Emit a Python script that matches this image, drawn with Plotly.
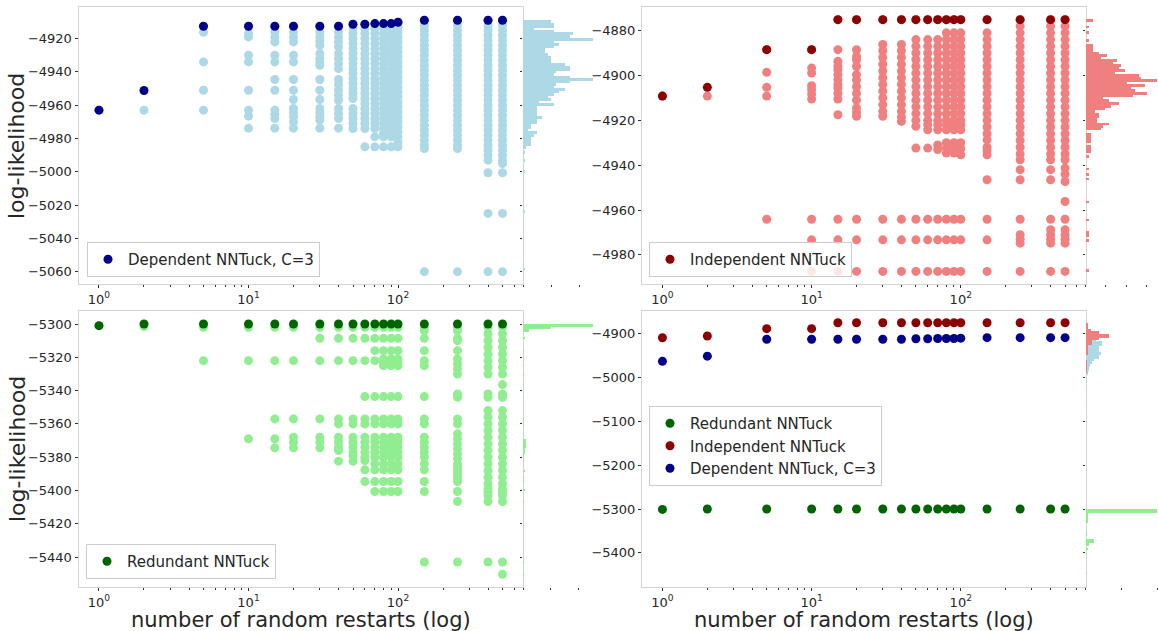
import plotly.graph_objects as go

W, H = 1158, 631

# ---------------- data ----------------
restarts = [1, 2, 5, 10, 15, 20, 30, 40, 50, 60, 70, 80, 90, 100, 150, 250, 400, 500]

dep_best = [-4963, -4951.2, -4912.6, -4912.6, -4912.6, -4912.6, -4912.6, -4912.6, -4911.4,
            -4911.4, -4911, -4911, -4911, -4910.2, -4909, -4909, -4909, -4909]
ind_best = [-4909.2, -4905.3, -4888.5, -4888.5] + [-4875.1] * 14
red_best = [-5301, -5300, -5300, -5300, -5300, -5300, -5300, -5300, -5300,
            -5300, -5300, -5300, -5300, -5300, -5300, -5300, -5300, -5300]

dep_runs = [
    [-4963],
    [-4963],
    [-4912.6, -4916.2, -4934, -4951, -4963],
    [-4912.6, -4917, -4919, -4930, -4934, -4951, -4963, -4966.6, -4973.8],
    [-4912.6, -4916, -4919, -4922, -4930, -4934, -4944.6, -4951, -4963, -4965.5, -4968, -4973.8],
    [-4912.6, -4916, -4919, -4922, -4930, -4934, -4944.6, -4951, -4956.6, -4962, -4964.5, -4967, -4970, -4973.8],
    [-4912.6, -4916, -4919, -4921.5, -4924, -4929, -4932, -4934, -4936, -4944.6, -4951, -4956.6, -4962,
     -4964.5, -4967, -4969, -4973.8],
    [-4912.6, -4916, -4919, -4922, -4925, -4929, -4932, -4935, -4938, -4944.6, -4947.5, -4951, -4954,
     -4957, -4962, -4965, -4968, -4973.8],
    [-4911.4, -4914, -4917, -4920, -4923, -4926, -4929, -4932, -4935, -4938, -4941, -4944, -4947, -4950,
     -4953, -4956, -4962, -4965, -4968, -4971, -4974],
    [-4911.4, -4914, -4917, -4920, -4923, -4926, -4929, -4932, -4935, -4938, -4941, -4944, -4947, -4950,
     -4953, -4956, -4959, -4962, -4965, -4968, -4971, -4974, -4985],
    [-4911, -4914, -4917, -4920, -4923, -4926, -4929, -4932, -4935, -4938, -4941, -4944, -4947, -4950,
     -4953, -4956, -4959, -4962, -4965, -4968, -4971, -4974, -4979, -4985],
    [-4911, -4914, -4917, -4920, -4923, -4926, -4929, -4932, -4935, -4938, -4941, -4944, -4947, -4950,
     -4953, -4956, -4959, -4962, -4965, -4968, -4971, -4974, -4977, -4979, -4985],
    [-4911, -4914, -4917, -4920, -4923, -4926, -4929, -4932, -4935, -4938, -4941, -4944, -4947, -4950,
     -4953, -4956, -4959, -4962, -4965, -4968, -4971, -4974, -4977, -4979, -4985],
    [-4910.2, -4913, -4916, -4919, -4922, -4925, -4928, -4931, -4934, -4937, -4940, -4943, -4946, -4949,
     -4952, -4955, -4958, -4961, -4964, -4967, -4970, -4973, -4976, -4979, -4982, -4985],
    [-4909, -4912, -4915, -4918, -4921, -4924, -4927, -4930, -4933, -4936, -4939, -4942, -4945, -4948,
     -4951, -4954, -4957, -4960, -4963, -4966, -4969, -4972, -4975, -4978, -4981, -4984, -4986, -5060],
    [-4909, -4912, -4915, -4918, -4921, -4924, -4927, -4930, -4933, -4936, -4939, -4942, -4945, -4948,
     -4951, -4954, -4957, -4960, -4963, -4966, -4969, -4972, -4975, -4978, -4981, -4984, -4986, -5060],
    [-4909, -4912, -4915, -4918, -4921, -4924, -4927, -4930, -4933, -4936, -4939, -4942, -4945, -4948,
     -4951, -4954, -4957, -4960, -4963, -4966, -4969, -4972, -4975, -4978, -4981, -4984, -4987, -4990,
     -4993, -5000.6, -5025, -5060],
    [-4909, -4912, -4915, -4918, -4921, -4924, -4927, -4930, -4933, -4936, -4939, -4942, -4945, -4948,
     -4951, -4954, -4957, -4960, -4963, -4966, -4969, -4972, -4975, -4978, -4981, -4984, -4987, -4990,
     -4993, -4995, -5000.6, -5025, -5060],
]

ind_runs = [
    [-4909.2],
    [-4909.2],
    [-4888.5, -4898.6, -4905.3, -4909.2, -4964.1],
    [-4888.5, -4896.7, -4898.9, -4904.6, -4906.3, -4908.3, -4910.5, -4964.1, -4973.3, -4987.4],
    [-4875.1, -4888.5, -4893.7, -4895.9, -4897.4, -4899.6, -4901.9, -4904.1, -4905.6, -4908, -4910.5,
     -4917.5, -4964.1, -4973.3, -4987.4],
    [-4875.1, -4888.5, -4891.5, -4893, -4896, -4899.6, -4902, -4905, -4908, -4911, -4914.5, -4916.5,
     -4918.2, -4964.1, -4973.3, -4987.4],
    [-4875.1, -4886.2, -4889, -4892, -4895, -4898, -4901, -4904, -4907, -4910, -4913, -4916, -4918.2,
     -4964.1, -4973.3, -4987.4],
    [-4875.1, -4886.2, -4889, -4892, -4895, -4898, -4901, -4904, -4907, -4910, -4913, -4916, -4918.5,
     -4920.5, -4964.1, -4973.3, -4987.4],
    [-4875.1, -4884, -4887, -4890, -4893, -4896, -4899, -4902, -4905, -4908, -4911, -4914, -4917, -4920,
     -4922.7, -4932.4, -4964.1, -4973.3, -4987.4],
    [-4875.1, -4884, -4887, -4890, -4893, -4896, -4899, -4902, -4905, -4908, -4911, -4914, -4917, -4920,
     -4922, -4924.2, -4932.4, -4964.1, -4973.3, -4987.4],
    [-4875.1, -4884, -4887, -4890, -4893, -4896, -4899, -4902, -4905, -4908, -4911, -4914, -4917, -4920,
     -4922, -4924.2, -4931, -4933, -4964.1, -4973.3, -4987.4],
    [-4875.1, -4881, -4884, -4887, -4890, -4893, -4896, -4899, -4902, -4905, -4908, -4911, -4914, -4917,
     -4920, -4922, -4924.2, -4930, -4932.3, -4934.6, -4964.1, -4973.3, -4987.4],
    [-4875.1, -4881, -4884, -4887, -4890, -4893, -4896, -4899, -4902, -4905, -4908, -4911, -4914, -4917,
     -4920, -4922, -4924.2, -4930, -4932.3, -4934.6, -4964.1, -4973.3, -4987.4],
    [-4875.1, -4881, -4884, -4887, -4890, -4893, -4896, -4899, -4902, -4905, -4908, -4911, -4914, -4917,
     -4920, -4922, -4924.2, -4930, -4932.7, -4935.4, -4964.1, -4973.3, -4987.4],
    [-4875.1, -4881, -4884, -4887, -4890, -4893, -4896, -4899, -4902, -4905, -4908, -4911, -4914, -4917,
     -4920, -4923, -4926, -4928.7, -4932, -4933.7, -4935.4, -4946.5, -4964.1, -4973.3, -4987.4],
    [-4875.1, -4878, -4881, -4884, -4887, -4890, -4893, -4896, -4899, -4902, -4905, -4908, -4911, -4914,
     -4917, -4920, -4923, -4926, -4929, -4932, -4935, -4937.6, -4942, -4946.5, -4964.1, -4971, -4973,
     -4974.8, -4987.4],
    [-4875.1, -4878, -4881, -4884, -4887, -4890, -4893, -4896, -4899, -4902, -4905, -4908, -4911, -4914,
     -4917, -4920, -4923, -4926, -4929, -4932, -4935, -4937.6, -4942, -4946.5, -4964.1, -4968.8, -4971,
     -4973, -4974.8, -4987.4],
    [-4875.1, -4878, -4881, -4884, -4887, -4890, -4893, -4896, -4899, -4902, -4905, -4908, -4911, -4914,
     -4917, -4920, -4923, -4926, -4929, -4932, -4935, -4937.6, -4941.3, -4944, -4947.3, -4956.2, -4964.1,
     -4968.8, -4971, -4973, -4974.8, -4987.4],
]

red_runs = [
    [-5301],
    [-5301.6],
    [-5302, -5322],
    [-5302, -5322, -5369],
    [-5302, -5322, -5357, -5369, -5374.4],
    [-5302, -5322, -5357, -5368, -5371, -5374.4],
    [-5302, -5308.6, -5322, -5357, -5368, -5371, -5374.4],
    [-5302, -5308.6, -5322, -5357, -5360, -5368, -5371, -5374, -5376, -5382.4],
    [-5302, -5308.6, -5322, -5357, -5360, -5368, -5371, -5374, -5377, -5379, -5382.4],
    [-5302, -5308.6, -5322, -5343.6, -5357, -5360, -5368, -5371, -5374, -5377, -5380, -5382, -5387.6,
     -5394.6],
    [-5302, -5308.6, -5316, -5322, -5343.6, -5357, -5360, -5368, -5371, -5374, -5377, -5380, -5384,
     -5387.6, -5394.6, -5400.6],
    [-5302, -5308.6, -5316, -5321, -5323, -5325, -5343.6, -5357, -5360, -5368, -5371, -5374, -5377,
     -5380, -5384, -5387.6, -5394.6, -5400.6],
    [-5302, -5308.6, -5316, -5321, -5323, -5325, -5343.6, -5357, -5360, -5368, -5371, -5374, -5377,
     -5380, -5384, -5387.6, -5394.6, -5400.6],
    [-5302, -5308.6, -5316, -5321, -5323, -5325, -5343.6, -5357, -5360, -5368, -5371, -5374, -5377,
     -5380, -5384, -5387.6, -5394.6, -5400.6],
    [-5302, -5304, -5308.6, -5316, -5322, -5325, -5343.6, -5357, -5360, -5368, -5371, -5374, -5377,
     -5380, -5384, -5387.6, -5394.6, -5400.6, -5443],
    [-5302, -5304, -5308.6, -5310, -5316, -5321, -5324, -5327, -5330, -5342, -5344, -5357, -5360, -5366,
     -5369, -5372, -5375, -5378, -5381, -5384, -5386, -5388, -5390, -5392, -5394.6, -5400.6, -5406.6,
     -5443],
    [-5302, -5306, -5310, -5314, -5318, -5322, -5326, -5330, -5342, -5344, -5352, -5356, -5360, -5364,
     -5368, -5372, -5376, -5380, -5384, -5388, -5392, -5396, -5399, -5401, -5403, -5406.6, -5443],
    [-5302, -5306, -5310, -5314, -5318, -5322, -5326, -5330, -5336.4, -5342, -5344, -5352, -5356, -5360,
     -5364, -5368, -5372, -5376, -5380, -5384, -5388, -5392, -5396, -5399, -5401, -5403, -5406.6, -5443,
     -5450.4],
]

# histograms: bin top, bin bottom, bar length (counts, in drawn units)
dep_hist_hi = [-4909.0, -4911.0, -4913.6, -4915.0, -4916.4, -4918.0, -4920.0, -4921.6, -4923.0, -4924.4,
               -4926.0, -4929.0, -4930.4, -4935.0, -4936.4, -4939.6, -4941.0, -4942.4, -4944.0, -4945.6,
               -4947.0, -4948.6, -4950.0, -4951.6, -4953.0, -4954.6, -4956.0, -4957.4, -4959.0, -4960.6,
               -4966.6, -4968.4, -4971.4, -4974.4, -4975.8, -4977.4, -4979.0, -4984.6,
               -4987.6, -4992.6, -4999.4, -5023.4, -5057.8]
dep_hist_lo = [-4911.0, -4913.6, -4915.0, -4916.4, -4918.0, -4920.0, -4921.6, -4923.0, -4924.4, -4926.0,
               -4929.0, -4930.4, -4935.0, -4936.4, -4939.6, -4941.0, -4942.4, -4944.0, -4945.6, -4947.0,
               -4948.6, -4950.0, -4951.6, -4953.0, -4954.6, -4956.0, -4957.4, -4959.0, -4960.6, -4966.6,
               -4968.4, -4971.4, -4974.4, -4975.8, -4977.4, -4979.0, -4984.6, -4986.6,
               -4989.2, -4994.2, -5001.0, -5025.0, -5059.4]
dep_hist_len = [28, 31, 11, 31, 50, 47, 70, 31, 36, 31, 22, 25, 28, 42, 47, 33, 31, 47, 70, 47,
                33, 31, 42, 36, 31, 25, 28, 16, 31, 14, 19, 14, 8, 5, 14, 11, 8, 3,
                2, 2, 2, 2, 2]

ind_hist_hi = [-4875.1, -4878.1, -4880.3, -4883.7, -4885.9, -4889.7, -4890.7, -4891.7, -4892.9, -4894.0,
               -4895.2, -4896.2, -4897.4, -4898.6, -4899.6, -4900.7, -4901.6, -4903.1, -4904.1, -4905.1,
               -4906.3, -4907.5, -4908.7, -4909.9, -4910.8, -4912.0, -4913.5, -4914.5, -4915.6, -4916.7,
               -4919.0, -4920.0, -4921.2, -4922.3, -4923.4, -4925.7, -4931.3, -4933.1, -4935.8, -4941.3,
               -4943.6, -4945.8, -4956.0, -4964.2, -4969.4, -4973.1, -4986.4]
ind_hist_lo = [-4876.3, -4879.1, -4881.5, -4885.1, -4889.7, -4890.7, -4891.7, -4892.9, -4894.0, -4895.2,
               -4896.2, -4897.4, -4898.6, -4899.6, -4900.7, -4901.6, -4903.1, -4904.1, -4905.1, -4906.3,
               -4907.5, -4908.7, -4909.9, -4910.8, -4912.0, -4913.5, -4914.5, -4915.6, -4916.7, -4919.0,
               -4920.0, -4921.2, -4922.3, -4923.4, -4924.5, -4930.1, -4933.1, -4934.9, -4936.9, -4942.4,
               -4944.8, -4946.9, -4957.0, -4965.2, -4972.2, -4974.2, -4987.6]
ind_hist_len = [6.7, 2.7, 2.7, 2.7, 6.7, 13, 20.7, 15, 30.7, 26.7, 34.7, 32.7, 38.7, 28.7, 52.7, 54.7,
                70.7, 40.7, 58.7, 44.7, 48.7, 60.7, 46.7, 16.7, 22.7, 32.7, 24.7, 18.7, 8.7, 12.7, 10.7,
                10.7, 22.7, 16.7, 14.7, 4.7, 4.7, 5, 2.7, 2.7, 2.7, 2.7, 2.7, 2.7, 2.7, 2.7, 2.7]

red_hist_hi = [-5299.6, -5301.6, -5303.0, -5307.4, -5315.3, -5321.3, -5324.3, -5329.3, -5335.7, -5342.8,
               -5356.3, -5359.3, -5365.3, -5369.0, -5374.6, -5378.0, -5381.3, -5387.4, -5391.3, -5393.8,
               -5399.0, -5405.8, -5442.3, -5449.7]
red_hist_lo = [-5301.6, -5303.0, -5304.6, -5309.0, -5316.8, -5322.8, -5325.8, -5330.8, -5337.2, -5344.3,
               -5357.8, -5360.8, -5366.8, -5374.6, -5378.0, -5379.5, -5382.8, -5389.0, -5392.8, -5395.3,
               -5400.4, -5407.3, -5443.8, -5451.2]
red_hist_len = [70, 28, 6.3, 1.3, 0.6, 0.6, 0.6, 0.6, 0.6, 0.6, 0.6, 0.6, 0.6, 3, 1.3, 0.6, 0.6, 1.3,
                0.6, 0.6, 1.3, 0.6, 0.6, 0.6]

# combined panel histograms (coarser bins)
dep_hist2_hi = [-4908.9, -4916.6, -4927.3, -4931.9, -4941.0, -4948.7, -4956.3, -4962.4, -4967.7, -4975.3,
                -4985.3, -4998.0, -5022.0, -5057.0]
dep_hist2_lo = [-4916.6, -4927.3, -4931.9, -4941.0, -4948.7, -4956.3, -4962.4, -4967.7, -4975.3, -4985.3,
                -4994.4, -5004.0, -5028.0, -5063.0]
dep_hist2_len = [10, 16, 12.7, 13.3, 14.7, 12.7, 8, 6, 4, 2.7, 1.3, 0.7, 0.7, 0.7]

ind_hist2_hi = [-4875.0, -4887.6, -4893.7, -4899.0, -4908.9, -4914.3, -4925.7, -4937.2, -4960.0]
ind_hist2_lo = [-4887.6, -4893.7, -4899.0, -4908.9, -4914.3, -4925.7, -4937.2, -4948.0, -4990.0]
ind_hist2_len = [1.3, 4.7, 12.7, 22.7, 12.7, 6, 2, 1.5, 1]

red_hist2_hi = [-5298.2, -5307.3, -5349.2, -5366.7, -5375.8, -5387.4, -5400.4, -5442.0]
red_hist2_lo = [-5307.3, -5330.2, -5360.6, -5375.8, -5383.4, -5393.5, -5406.4, -5448.0]
red_hist2_len = [71.3, 1.3, 1, 8, 2.7, 1.3, 1, 1]

# ---------------- style ----------------
C_DEP_L, C_DEP_D = "lightblue", "darkblue"
C_IND_L, C_IND_D = "lightcoral", "darkred"
C_RED_L, C_RED_D = "lightgreen", "darkgreen"
FONT = "DejaVu Sans"
MS = 9

fig = go.Figure()


def runs_xy(runs):
    xs, ys = [], []
    for xv, col in zip(restarts, runs):
        for v in col:
            xs.append(xv)
            ys.append(v)
    return xs, ys


def add_runs(runs, color, xa, ya):
    xs, ys = runs_xy(runs)
    fig.add_trace(go.Scatter(x=xs, y=ys, mode="markers", xaxis=xa, yaxis=ya, showlegend=False,
                             marker=dict(color=color, size=MS, line=dict(width=0)), hoverinfo="skip"))


def add_best(best, color, name, xa, ya, legend, rank=1000):
    fig.add_trace(go.Scatter(x=restarts, y=best, mode="markers", xaxis=xa, yaxis=ya, name=name,
                             legend=legend, legendrank=rank,
                             marker=dict(color=color, size=MS, line=dict(width=0))))


def add_hist(hi, lo, ln, color, xa, ya):
    centers = [(a + b) / 2 for a, b in zip(hi, lo)]
    widths = [a - b for a, b in zip(hi, lo)]
    fig.add_trace(go.Bar(x=ln, y=centers, width=widths, orientation="h", xaxis=xa, yaxis=ya,
                         showlegend=False, marker=dict(color=color, line=dict(width=0)), hoverinfo="skip"))


# top-left: dependent
add_runs(dep_runs, C_DEP_L, "x", "y")
add_best(dep_best, C_DEP_D, "Dependent NNTuck, C=3", "x", "y", "legend")
add_hist(dep_hist_hi, dep_hist_lo, dep_hist_len, C_DEP_L, "x5", "y5")
# top-right: independent
add_runs(ind_runs, C_IND_L, "x2", "y2")
add_best(ind_best, C_IND_D, "Independent NNTuck", "x2", "y2", "legend2")
add_hist(ind_hist_hi, ind_hist_lo, ind_hist_len, C_IND_L, "x6", "y6")
# bottom-left: redundant
add_runs(red_runs, C_RED_L, "x3", "y3")
add_best(red_best, C_RED_D, "Redundant NNTuck", "x3", "y3", "legend3")
add_hist(red_hist_hi, red_hist_lo, red_hist_len, C_RED_L, "x7", "y7")
# bottom-right: combined
add_best(red_best, C_RED_D, "Redundant NNTuck", "x4", "y4", "legend4", 1)
add_best(ind_best, C_IND_D, "Independent NNTuck", "x4", "y4", "legend4", 2)
add_best(dep_best, C_DEP_D, "Dependent NNTuck, C=3", "x4", "y4", "legend4", 3)
add_hist(dep_hist2_hi, dep_hist2_lo, dep_hist2_len, C_DEP_L, "x8", "y8")
add_hist(ind_hist2_hi, ind_hist2_lo, ind_hist2_len, C_IND_L, "x8", "y8")
add_hist(red_hist2_hi, red_hist2_lo, red_hist2_len, C_RED_L, "x8", "y8")

# ---------------- layout ----------------
def px_x(a, b):
    return [a / W, b / W]


def px_y(top, bottom):
    return [1 - bottom / H, 1 - top / H]


ROW_T = px_y(7.3, 284)
ROW_B = px_y(310.7, 587)
COL_L = px_x(78.5, 523)
COL_R = px_x(642, 1085.5)
HIST_L = px_x(523, 600)
HIST_R = px_x(1085.5, 1158)

XR = [-0.137, 2.836]
minor_vals = [2, 3, 4, 5, 6, 7, 8, 9, 20, 30, 40, 50, 60, 70, 80, 90, 200, 300, 400, 500, 600]
FRAME = "#d4d4d4"
TICKC = "#333333"
TICKFONT = dict(size=13, color="#262626", family=FONT)


def scatter_x(domain, anchor):
    return dict(type="log", range=XR, domain=domain, anchor=anchor, showline=True, linecolor=FRAME,
                linewidth=1, mirror=True, ticks="outside", ticklen=3, tickcolor=TICKC,
                tickvals=[1, 10, 100], ticktext=["10<sup>0</sup>", "10<sup>1</sup>", "10<sup>2</sup>"],
                tickfont=TICKFONT, showgrid=False, zeroline=False,
                minor=dict(ticks="outside", ticklen=2, tickcolor=TICKC, tickvals=minor_vals, showgrid=False))


def scatter_y(domain, anchor, rng, tv):
    return dict(range=rng, domain=domain, anchor=anchor, showline=True, linecolor=FRAME, linewidth=1,
                mirror=True, ticks="outside", ticklen=3, tickcolor=TICKC, tickvals=tv,
                tickfont=TICKFONT, showgrid=False, zeroline=False)


def hist_x(domain, anchor, rng, dt):
    return dict(range=rng, domain=domain, anchor=anchor, showline=False, ticks="outside", ticklen=2,
                tickcolor=TICKC, dtick=dt, tick0=0, showticklabels=False, showgrid=False, zeroline=False)


def hist_y(domain, anchor, rng, tv):
    return dict(range=rng, domain=domain, anchor=anchor, showline=False, ticks="outside", ticklen=2,
                tickcolor=TICKC, tickvals=tv, showticklabels=False, showgrid=False, zeroline=False)


R_TL = [-5067.4, -4901.2]
R_TR = [-4993.0, -4869.6]
R_BL = [-5458.0, -5292.0]
R_BR = [-5478.0, -4847.5]
T_TL = [-4920, -4940, -4960, -4980, -5000, -5020, -5040, -5060]
T_TR = [-4880, -4900, -4920, -4940, -4960, -4980]
T_BL = [-5300, -5320, -5340, -5360, -5380, -5400, -5420, -5440]
T_BR = [-4900, -5000, -5100, -5200, -5300, -5400]

legend_style = dict(bgcolor="rgba(255,255,255,0.8)", bordercolor="#cccccc", borderwidth=1,
                    font=dict(size=15, family=FONT, color="#262626"), xanchor="left", yanchor="bottom",
                    itemwidth=30)

fig.update_layout(
    width=W, height=H, margin=dict(l=0, r=0, t=0, b=0), paper_bgcolor="white", plot_bgcolor="white",
    font=dict(family=FONT, color="#262626"), bargap=0, barmode="overlay",
    xaxis=scatter_x(COL_L, "y"), yaxis=scatter_y(ROW_T, "x", R_TL, T_TL),
    xaxis2=scatter_x(COL_R, "y2"), yaxis2=scatter_y(ROW_T, "x2", R_TR, T_TR),
    xaxis3=scatter_x(COL_L, "y3"), yaxis3=scatter_y(ROW_B, "x3", R_BL, T_BL),
    xaxis4=scatter_x(COL_R, "y4"), yaxis4=scatter_y(ROW_B, "x4", R_BR, T_BR),
    xaxis5=hist_x(HIST_L, "y5", [0, 77], 28), yaxis5=hist_y(ROW_T, "x5", R_TL, T_TL),
    xaxis6=hist_x(HIST_R, "y6", [0, 72.5], 20.3), yaxis6=hist_y(ROW_T, "x6", R_TR, T_TR),
    xaxis7=hist_x(HIST_L, "y7", [0, 77], 27.5), yaxis7=hist_y(ROW_B, "x7", R_BL, T_BL),
    xaxis8=hist_x(HIST_R, "y8", [0, 72.5], 36), yaxis8=hist_y(ROW_B, "x8", R_BR, T_BR),
    legend=dict(legend_style, x=87 / W, y=1 - 277 / H),
    legend2=dict(legend_style, x=649 / W, y=1 - 277 / H),
    legend3=dict(legend_style, x=86 / W, y=1 - 579 / H),
    legend4=dict(legend_style, x=649 / W, y=1 - 486 / H),
)

ytitle_font = dict(size=22, family=FONT, color="#262626")
xtitle_font = dict(size=21, family=FONT, color="#262626")
fig.add_annotation(text="log-likelihood", x=17 / W, y=1 - 146 / H, xref="paper", yref="paper",
                   textangle=-90, showarrow=False, font=ytitle_font, xanchor="center", yanchor="middle")
fig.add_annotation(text="log-likelihood", x=17 / W, y=1 - 449 / H, xref="paper", yref="paper",
                   textangle=-90, showarrow=False, font=ytitle_font, xanchor="center", yanchor="middle")
fig.add_annotation(text="number of random restarts (log)", x=300.75 / W, y=1 - 620 / H, xref="paper",
                   yref="paper", showarrow=False, font=xtitle_font, xanchor="center", yanchor="middle")
fig.add_annotation(text="number of random restarts (log)", x=863.75 / W, y=1 - 620 / H, xref="paper",
                   yref="paper", showarrow=False, font=xtitle_font, xanchor="center", yanchor="middle")

fig.write_html("out.html", config={"displayModeBar": False},
               post_script="document.body.style.margin='0';document.body.style.overflow='hidden';")
